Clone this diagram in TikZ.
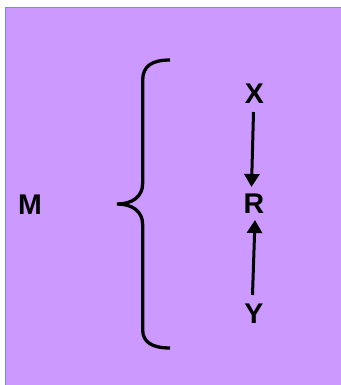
\documentclass[tikz,border=0pt]{standalone}
\usepackage{fontspec}
\setmainfont{Liberation Sans}
\usetikzlibrary{arrows.meta}
\definecolor{bgpurple}{HTML}{CC99FF}
\definecolor{edgeblue}{HTML}{6F8FDF}
\tikzset{
  lbl/.style={inner sep=0pt, font=\fontsize{28.5}{32}\selectfont\bfseries, text=black},
  arr/.style={line width=3pt, -{Triangle[width=15pt,length=13pt]}},
  bracestyle/.style={line width=3.3pt, line cap=butt}
}
\begin{document}
\begin{tikzpicture}[x=1pt,y=-1pt]
\useasboundingbox (0,0) rectangle (340,385);
\fill[white] (0,0) rectangle (340,385);
\fill[bgpurple] (5,7) rectangle (345,390);
\draw[edgeblue, line width=1.5pt] (345,7.5) -- (5.5,7.5) -- (5.5,390);
\node[lbl] (M) at (30,205) {M};
\node[lbl] (X) at (254.5,94) {X};
\node[lbl] (R) at (254,204) {R};
\node[lbl] (Y) at (254,314) {Y};
\draw[bracestyle] (170,60) .. controls (152,60) and (142.7,66) .. (142.7,80)
  -- (142.7,183) .. controls (142.7,197) and (132,204) .. (117,204)
  .. controls (132,204) and (142.7,211) .. (142.7,225)
  -- (142.7,330) .. controls (142.7,342) and (152,348) .. (170,348);
\draw[arr] ([xshift=-1pt,yshift=-8pt]X.south) -- ([xshift=-2.5pt,yshift=7pt]R.north);
\draw[arr] ([xshift=-1.5pt,yshift=9pt]Y.north) -- ([xshift=1pt,yshift=-6pt]R.south);
\end{tikzpicture}
\end{document}
